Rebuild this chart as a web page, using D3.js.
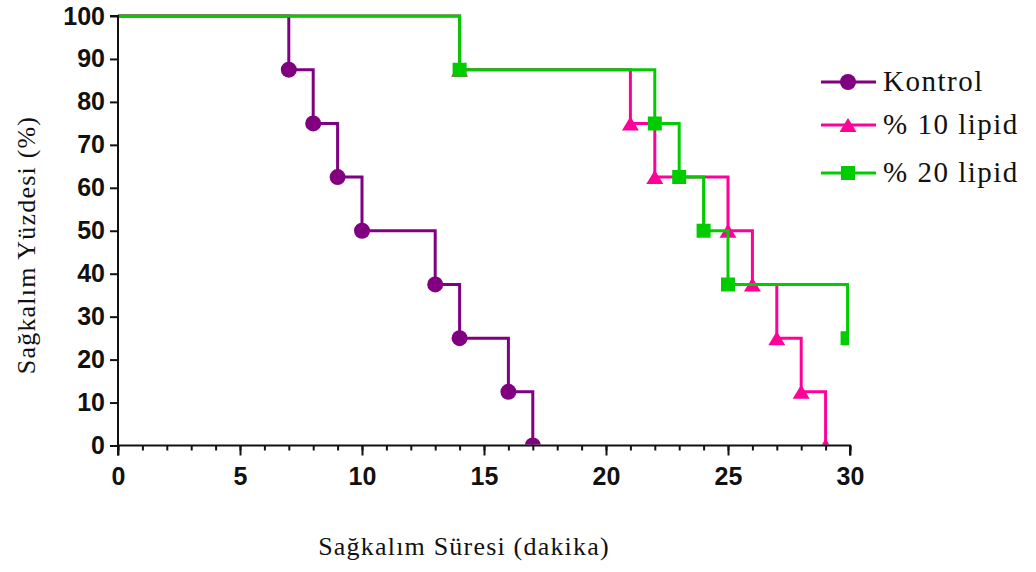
<!DOCTYPE html>
<html>
<head>
<meta charset="utf-8">
<script src="https://cdn.jsdelivr.net/npm/d3@7"></script>
<style>
  html, body { margin: 0; padding: 0; background: #fff; }
  svg { display: block; }
</style>
</head>
<body>
<svg id="chart" width="1036" height="572"></svg>
<script>
// ---- Data ----
const seriesNames = ["Kontrol", "% 10 lipid", "% 20 lipid"];
const kontrolTimes = [7, 8, 9, 10, 13, 14, 16, 17];
const kontrolSurv = [87.5, 75, 62.5, 50, 37.5, 25, 12.5, 0];
const lipid10Times = [14, 21, 22, 25, 26, 27, 28, 29];
const lipid10Surv = [87.5, 75, 62.5, 50, 37.5, 25, 12.5, 0];
const lipid20Times = [14, 22, 23, 24, 25, 29.9];
const lipid20Surv = [87.5, 75, 62.5, 50, 37.5, 25];
const xTickLabels = [0, 5, 10, 15, 20, 25, 30];
const yTickLabels = [0, 10, 20, 30, 40, 50, 60, 70, 80, 90, 100];
const xTitle = "Sağkalım Süresi (dakika)";
const yTitle = "Sağkalım Yüzdesi (%)";

const series = [
  { name: seriesNames[0], times: kontrolTimes, surv: kontrolSurv, color: "#800080", marker: "circle" },
  { name: seriesNames[1], times: lipid10Times, surv: lipid10Surv, color: "#ff0099", marker: "triangle" },
  { name: seriesNames[2], times: lipid20Times, surv: lipid20Surv, color: "#00cc00", marker: "square" }
];

// ---- Layout ----
const svg = d3.select("#chart");
const pLeft = 118, pRight = 850, pTop = 16, pBottom = 445.5;
const x = d3.scaleLinear().domain([0, 30]).range([pLeft, pRight]);
const y = d3.scaleLinear().domain([0, 100]).range([pBottom, pTop]);

// clip (series ending above 0 are cut at their last time)
const defs = svg.append("defs");
series.forEach((s, i) => {
  const n = s.times.length;
  const clipRight = s.surv[n - 1] > 0 ? Math.min(x(30), x(s.times[n - 1]) + 1.5) : x(30) + 10;
  defs.append("clipPath").attr("id", "clip" + i)
    .append("rect")
    .attr("x", pLeft).attr("y", pTop - 4)
    .attr("width", clipRight - pLeft).attr("height", pBottom - pTop + 3);
});

function markerPath(type, cx, cy) {
  const p = d3.path();
  if (type === "circle") {
    p.arc(cx, cy, 8, 0, 2 * Math.PI);
  } else if (type === "square") {
    p.rect(cx - 7, cy - 7, 14, 14);
  } else {
    p.moveTo(cx, cy - 7);
    p.lineTo(cx + 8.5, cy + 7);
    p.lineTo(cx - 8.5, cy + 7);
    p.closePath();
  }
  return p.toString();
}

// series
series.forEach((s, i) => {
  const g = svg.append("g").attr("clip-path", "url(#clip" + i + ")");
  const pts = [[0, 100]];
  let prev = 100;
  s.times.forEach((t, j) => {
    pts.push([t, prev]);
    pts.push([t, s.surv[j]]);
    prev = s.surv[j];
  });
  const line = d3.line().x(d => x(d[0])).y(d => y(d[1]));
  g.append("path").attr("d", line(pts))
    .attr("fill", "none").attr("stroke", s.color).attr("stroke-width", 3)
    .attr("stroke-linejoin", "miter").attr("stroke-linecap", "square");
  g.selectAll("path.m").data(s.times.map((t, j) => [t, s.surv[j]]))
    .enter().append("path").attr("class", "m")
    .attr("d", d => markerPath(s.marker, x(d[0]), y(d[1])))
    .attr("fill", s.color);
});

// axes
const axisColor = "#111";
const yAxis = svg.append("g").attr("transform", `translate(${pLeft},0)`)
  .call(d3.axisLeft(y).tickValues(yTickLabels).tickSize(8).tickPadding(5).tickFormat(d3.format("d")));
const xMinor = svg.append("g").attr("transform", `translate(0,${pBottom})`)
  .call(d3.axisBottom(x).tickValues(d3.range(0, 31)).tickSize(5).tickFormat(""));
const xAxis = svg.append("g").attr("transform", `translate(0,${pBottom})`)
  .call(d3.axisBottom(x).tickValues(xTickLabels).tickSize(10).tickPadding(12).tickFormat(d3.format("d")));

[yAxis, xAxis, xMinor].forEach(a => {
  a.select(".domain").attr("stroke", axisColor).attr("stroke-width", 2);
  a.selectAll(".tick line").attr("stroke", axisColor).attr("stroke-width", 2);
  a.selectAll(".tick text")
    .attr("font-family", "'Liberation Sans', Arial, sans-serif")
    .attr("font-weight", "bold").attr("font-size", 25).attr("fill", axisColor);
});
xMinor.select(".domain").remove();
yAxis.select(".domain").attr("d", `M-8,${pTop}H0V${pBottom}`);
xAxis.select(".domain").attr("d", `M${pLeft},10V0H${pRight}V10`);

// titles
const serif = "'Liberation Serif', 'Times New Roman', serif";
svg.append("text").attr("x", 464).attr("y", 555)
  .attr("text-anchor", "middle").attr("font-family", serif).attr("font-size", 26)
  .attr("letter-spacing", 1.2).attr("fill", "#111").text(xTitle);
svg.append("text").attr("transform", "translate(35,245) rotate(-90)")
  .attr("text-anchor", "middle").attr("font-family", serif).attr("font-size", 26)
  .attr("letter-spacing", 1.2).attr("fill", "#111").text(yTitle);

// legend
const legendY = [82, 125, 173];
series.forEach((s, i) => {
  const g = svg.append("g").attr("transform", `translate(0,${legendY[i]})`);
  g.append("line").attr("x1", 821).attr("x2", 876).attr("y1", 0).attr("y2", 0)
    .attr("stroke", s.color).attr("stroke-width", 3);
  g.append("path").attr("d", markerPath(s.marker, 848, 0)).attr("fill", s.color);
  g.append("text").attr("x", 883).attr("y", 9)
    .attr("font-family", serif).attr("font-size", 29).attr("letter-spacing", 1.5)
    .attr("fill", "#111").text(s.name);
});
</script>
</body>
</html>
